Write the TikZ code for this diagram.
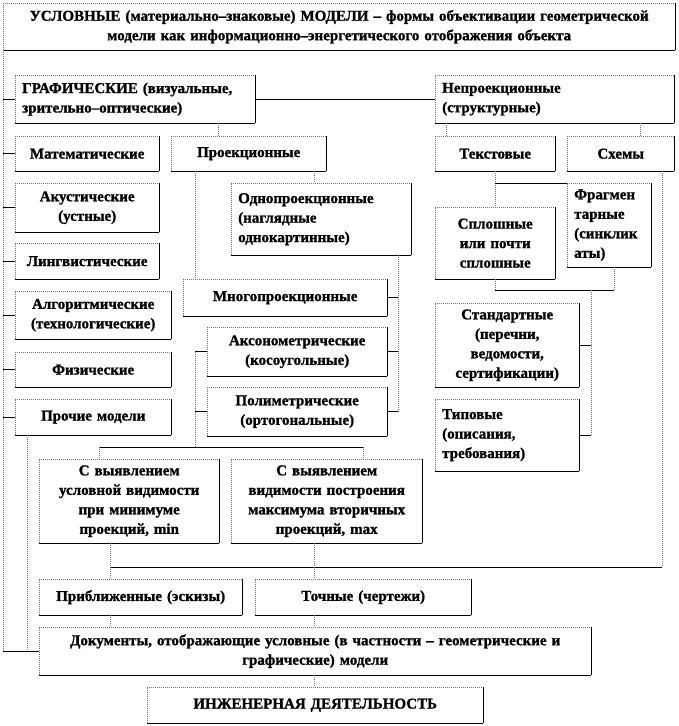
\documentclass[tikz,border=0pt]{standalone}
\usepackage{fontspec}
\setmainfont{Liberation Serif}[BoldFeatures={FakeBold=1.2}]

\begin{document}
\begin{tikzpicture}[x=1pt,y=-1pt,
  vl/.style={draw=black!55,line width=1pt,dash pattern=on 1pt off 1pt},
  hl/.style={draw=black,line width=1pt},
  sz/.style 2 args={minimum width=#1pt,minimum height=#2pt,text width=#1pt-14pt},
  blk/.style={anchor=north west,inner sep=0pt,align=center,
    font=\fontsize{15}{19.5}\selectfont\bfseries,
    append after command={
      (\tikzlastnode.south west) edge[vl] (\tikzlastnode.north west)
      (\tikzlastnode.north west) edge[vl] (\tikzlastnode.north east)
      (\tikzlastnode.north east) edge[hl] (\tikzlastnode.south east)
      (\tikzlastnode.south east) edge[hl] (\tikzlastnode.south west)}},
  blkl/.style={blk,align=left}]
  \useasboundingbox (0,0) rectangle (678,726);
  % titulo
  \node[blk,sz={672}{47}] (top) at (3,3)
    {УСЛОВНЫЕ (материально–знаковые) МОДЕЛИ – формы объективации геометрической\\
     модели как информационно–энергетического отображения объекта};
  % fila 1
  \node[blkl,sz={240}{48}] (graf) at (15,75) {ГРАФИЧЕСКИЕ (визуальные,\\зрительно–оптические)};
  \node[blkl,sz={239}{48}] (nep) at (435,75) {Непроекционные\\(структурные)};
  % fila 2
  \node[blk,sz={144}{35}] (math) at (15,136) {Математические};
  \node[blk,sz={155}{35}] (proj) at (171,136) {Проекционные};
  \node[blk,sz={120}{35}] (text) at (435,136) {Текстовые};
  \node[blk,sz={107}{35}] (schem) at (567,136) {Схемы};
  % columna izquierda
  \node[blk,sz={144}{49}] (acou) at (15,183) {Акустические\\(устные)};
  \node[blk,sz={144}{36}] (ling) at (15,243) {Лингвистические};
  \node[blk,sz={156}{48}] (algo) at (15,291) {Алгоритмические\\(технологические)};
  \node[blk,sz={156}{35}] (phys) at (15,352) {Физические};
  \node[blk,sz={156}{36}] (other) at (15,399) {Прочие модели};
  % proyecciones
  \node[blkl,sz={180}{72}] (one) at (231,183) {Однопроекционные\\(наглядные\\однокартинные)};
  \node[blk,sz={204}{37}] (multi) at (183,279) {Многопроекционные};
  \node[blk,sz={180}{49}] (axon) at (207,327) {Аксонометрические\\(косоугольные)};
  \node[blk,sz={180}{49}] (poly) at (207,387) {Полиметрические\\(ортогональные)};
  % textos
  \node[blk,sz={120}{72}] (solid) at (435,207) {Сплошные\\или почти\\сплошные};
  \node[blkl,sz={84}{84}] (frag) at (567,183) {Фрагмен\\тарные\\(синклик\\аты)};
  \node[blk,sz={144}{84}] (std) at (435,303) {Стандартные\\(перечни,\\ведомости,\\сертификации)};
  \node[blkl,sz={144}{72}] (typ) at (435,399) {Типовые\\(описания,\\требования)};
  % visibilidad
  \node[blk,sz={180}{84}] (vis1) at (39,459) {С выявлением\\условной видимости\\при минимуме\\проекций, min};
  \node[blk,sz={191}{84}] (vis2) at (231,459) {С выявлением\\видимости построения\\максимума вторичных\\проекций, max};
  % documentos
  \node[blk,sz={203}{36}] (approx) at (39,579) {Приближенные (эскизы)};
  \node[blk,sz={216}{36}] (exact) at (255,579) {Точные (чертежи)};
  \node[blk,sz={552}{48}] (doc) at (39,627) {Документы, отображающие условные (в частности – геометрические и\\графические) модели};
  \node[blk,sz={336}{36}] (eng) at (147,687) {ИНЖЕНЕРНАЯ ДЕЯТЕЛЬНОСТЬ};
  % columnas de las lineas
  \coordinate (xa) at (218,0);
  \coordinate (xb) at (446,0);
  \coordinate (xc) at (640,0);
  \coordinate (xd) at (195,0);
  \coordinate (xe) at (314,0);
  \coordinate (xf) at (398,0);
  \coordinate (xg) at (495,0);
  \coordinate (xh) at (614,0);
  \coordinate (xi) at (591,0);
  \coordinate (xj) at (662,0);
  \coordinate (xk) at (27,0);
  \coordinate (xl) at (99,0);
  \coordinate (xm) at (363,0);
  \coordinate (xn) at (110,0);
  \coordinate (yv) at (0,447);
  \coordinate (yb) at (0,290);
  \coordinate (yr) at (0,567);
  % tronco izquierdo
  \coordinate (tb) at (top.south west |- doc.west);
  \draw[vl] (top.south west) -- (tb);
  \draw[hl] (tb) -- (doc.west);
  \foreach \n in {graf,math,acou,ling,algo,phys,other}
    \draw[hl] (\n.west) -- (\n.west -| top.west);
  \draw[vl] (other.south -| xk) -- (tb -| xk);
  % graficas / no proyectivas
  \draw[hl] (graf.east) -- (nep.west);
  \draw[vl] (graf.south -| xa) -- (proj.north -| xa);
  \draw[vl] (nep.south -| xb) -- (text.north -| xb);
  \draw[vl] (nep.south -| xc) -- (schem.north -| xc);
  % proyecciones
  \draw[vl] (proj.south -| xd) -- (multi.north -| xd);
  \draw[vl] (proj.south -| xe) -- (one.north -| xe);
  \draw[vl] (one.south -| xf) -- (poly.east -| xf);
  \foreach \n in {multi,axon,poly}
    \draw[hl] (\n.east) -- (\n.east -| xf);
  \draw[vl] (axon.west -| xd) -- (xd |- yv);
  \foreach \n in {axon,poly}
    \draw[hl] (\n.west) -- (\n.west -| xd);
  \draw[hl] (xl |- yv) -- (xm |- yv);
  \draw[vl] (xl |- yv) -- (vis1.north -| xl);
  \draw[vl] (xm |- yv) -- (vis2.north -| xm);
  % textos
  \draw[vl] (text.south -| xg) -- (solid.north -| xg);
  \draw[hl] (frag.north west -| xg) -- (frag.north west);
  \draw[vl] (solid.south -| xg) -- (xg |- yb);
  \draw[vl] (frag.south -| xh) -- (xh |- yb);
  \draw[hl] (xg |- yb) -- (xh |- yb);
  \draw[vl] (xi |- yb) -- (typ.east -| xi);
  \foreach \n in {std,typ}
    \draw[hl] (\n.east) -- (\n.east -| xi);
  % esquemas
  \draw[vl] (schem.south -| xj) -- (xj |- yr);
  \draw[hl] (xj |- yr) -- (xn |- yr);
  % hacia documentos
  \draw[vl] (vis1.south -| xn) -- (approx.north -| xn);
  \draw[vl] (vis2.south -| xe) -- (exact.north -| xe);
  \draw[vl] (approx.south -| xn) -- (doc.north -| xn);
  \draw[vl] (exact.south -| xe) -- (doc.north -| xe);
  \draw[vl] (doc.south -| xe) -- (eng.north -| xe);
\end{tikzpicture}
\end{document}
